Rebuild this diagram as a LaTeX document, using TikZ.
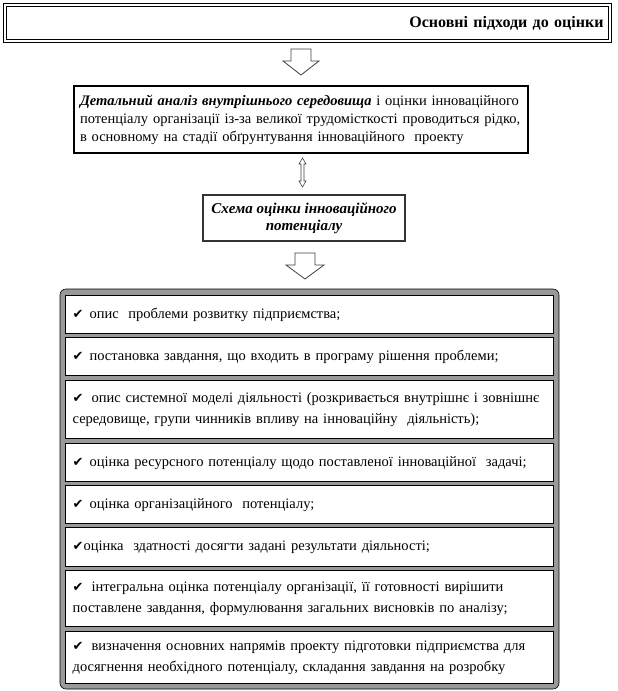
\documentclass[tikz,border=0pt]{standalone}
\usepackage{fontspec}
\setmainfont{Liberation Serif}
\newfontfamily\symfont{DejaVu Sans}
\usetikzlibrary{positioning}

\newcommand{\okmark}{{\symfont\fontsize{13}{13}\selectfont ✔}}
\newcommand{\fullline}[2][474pt]{\makebox[#1][s]{#2}}

\begin{document}
\begin{tikzpicture}[
        x=1pt, y=-1pt,
        every node/.style={font=\fontsize{14.5}{18}\selectfont},
        mainbox/.style={rectangle, draw, line width=1.6pt, fill=white, inner xsep=6pt, inner ysep=0pt},
        blockarrow/.style={draw=black!75, line width=0.8pt, fill=white, line join=miter},
        item/.style={rectangle, draw, line width=1.3pt, fill=white, anchor=north west, minimum width=488pt, text width=474pt, inner xsep=7pt, inner ysep=0pt, align=left, font=\fontsize{14.5}{21}\selectfont}
    ]
        \useasboundingbox (0,0) rectangle (618,691);

        % Header
        \node[draw, double, double distance=2pt, line width=1.2pt, minimum width=605pt, minimum height=36pt, text width=592pt, align=right, inner sep=0pt, font=\fontsize{16}{18}\selectfont\bfseries] (header) at (307.5,23) {Основні підходи до оцінки};

        % Arrow to analysis
        \draw[blockarrow] (291,49) -- (311,49) -- (311,61) -- (319,61) -- (301,75) -- (283,61) -- (291,61) -- cycle;

        % Detailed analysis
        \node[mainbox, minimum width=454pt, minimum height=67pt, text width=442pt, align=left] (analysis) at (301,119.5) {%
            \fullline[442pt]{\textbf{\textit{Детальний аналіз внутрішнього середовища}} і оцінки інноваційного}\\
            \fullline[442pt]{потенціалу організації із-за великої трудомісткості проводиться рідко,}\\
            в основному на стадії обґрунтування інноваційного\ \ проекту};

        % Two-way arrow
        \draw[blockarrow, line width=0.6pt] (302.5,158) -- (306,164) -- (304,164) -- (304,181) -- (306,181) -- (302.5,187) -- (299,181) -- (301,181) -- (301,164) -- (299,164) -- cycle;

        % Scheme
        \node[mainbox, line width=1.2pt, draw=black!80, minimum width=202pt, minimum height=46pt, align=center, font=\fontsize{15}{17.5}\selectfont\bfseries\itshape] (scheme) at (304,218) {Схема оцінки інноваційного\\потенціалу};

        % Arrow to steps
        \draw[blockarrow] (295,253) -- (315,253) -- (315,265) -- (324,265) -- (305,279) -- (286,265) -- (295,265) -- cycle;

        % List of steps
        \draw[fill=black!40, rounded corners=6pt, line width=0.6pt] (60,289) rectangle (559,689);

        \node[item, minimum height=38pt] (s1) at (65,295) {\okmark\hspace{6pt}опис\ \ проблеми розвитку підприємства;};
        \node[item, minimum height=38pt] (s2) at (65,337) {\okmark\hspace{6pt}постановка завдання, що входить в програму рішення проблеми;};
        \node[item, minimum height=58pt] (s3) at (65,380) {\fullline{\okmark\hspace{8pt}опис системної моделі діяльності (розкривається внутрішнє і зовнішнє}\\
            середовище, групи чинників впливу на інноваційну\ \ діяльність);};
        \node[item, minimum height=38pt] (s4) at (65,443) {\okmark\hspace{6pt}оцінка ресурсного потенціалу щодо поставленої інноваційної\ \ задачі;};
        \node[item, minimum height=38pt] (s5) at (65,485) {\okmark\hspace{6pt}оцінка організаційного\ \ потенціалу;};
        \node[item, minimum height=39pt] (s6) at (65,527) {\okmark оцінка\ \ здатності досягти задані результати діяльності;};
        \node[item, minimum height=56pt] (s7) at (65,570) {\fullline{\okmark\hspace{8pt}інтегральна оцінка потенціалу організації, її готовності вирішити}\\
            поставлене завдання, формулювання загальних висновків по аналізу;};
        \node[item, minimum height=52pt] (s8) at (65,631) {\fullline{\okmark\hspace{8pt}визначення основних напрямів проекту підготовки підприємства для}\\
            \fullline{досягнення необхідного потенціалу, складання завдання на розробку}};
    \end{tikzpicture}
\end{document}
